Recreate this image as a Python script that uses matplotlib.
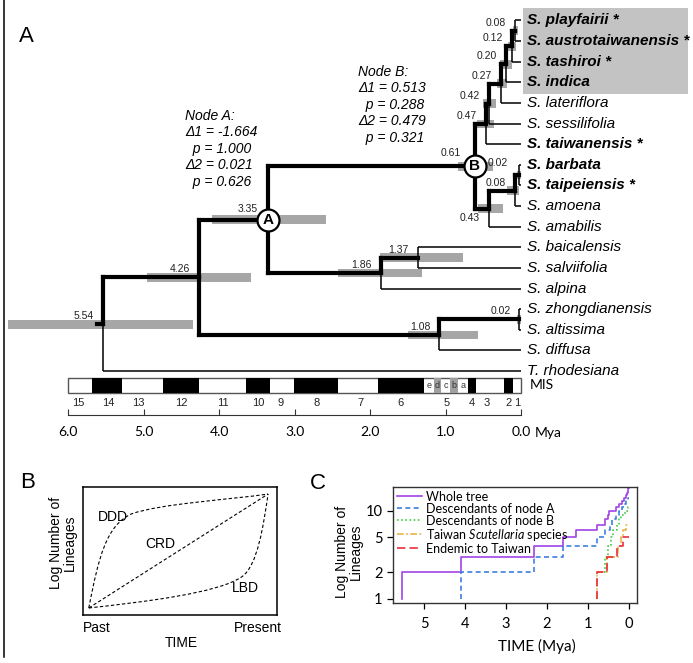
import matplotlib
matplotlib.use('Agg')
import matplotlib.pyplot as plt
from matplotlib.path import Path
from matplotlib.patches import PathPatch
from matplotlib.lines import Line2D
from matplotlib.ticker import NullLocator

plt.rcParams['font.family'] = ['Liberation Sans', 'DejaVu Sans']
plt.rcParams['mathtext.fontset'] = 'custom'
plt.rcParams['mathtext.it'] = 'Lato:italic'
plt.rcParams['mathtext.rm'] = 'Lato'

# ---------------- panel A data: dated tree ----------------
tips = ['S. playfairii', 'S. austrotaiwanensis', 'S. tashiroi', 'S. indica',
        'S. lateriflora', 'S. sessilifolia', 'S. taiwanensis', 'S. barbata',
        'S. taipeiensis', 'S. amoena', 'S. amabilis', 'S. baicalensis',
        'S. salviifolia', 'S. alpina', 'S. zhongdianensis', 'S. altissima',
        'S. diffusa', 'T. rhodesiana']
endemic = ['S. playfairii', 'S. austrotaiwanensis', 'S. tashiroi',
           'S. taiwanensis', 'S. taipeiensis']
taiwan = endemic + ['S. indica', 'S. barbata']
boxed = ['S. playfairii', 'S. austrotaiwanensis', 'S. tashiroi', 'S. indica']

node_ids = ['root', 'n426', 'A', 'n186', 'n137', 'n108', 'n002z', 'B',
            'n047', 'n042', 'n027', 'n020', 'n012', 'n008',
            'n043', 'n008b', 'n002b']
node_ages = [5.54, 4.26, 3.35, 1.86, 1.37, 1.08, 0.02, 0.61,
             0.47, 0.42, 0.27, 0.20, 0.12, 0.08,
             0.43, 0.08, 0.02]
node_kids = [['n426', 'T. rhodesiana'], ['A', 'n108'], ['B', 'n186'],
             ['n137', 'S. alpina'], ['S. baicalensis', 'S. salviifolia'],
             ['n002z', 'S. diffusa'], ['S. zhongdianensis', 'S. altissima'],
             ['n047', 'n043'],
             ['n042', 'S. taiwanensis'], ['n027', 'S. sessilifolia'],
             ['n020', 'S. lateriflora'], ['n012', 'S. indica'],
             ['n008', 'S. tashiroi'], ['S. playfairii', 'S. austrotaiwanensis'],
             ['n008b', 'S. amabilis'], ['n002b', 'S. amoena'],
             ['S. barbata', 'S. taipeiensis']]
# 95% HPD intervals (Mya)
node_hpd = [(6.79, 4.34), (4.95, 3.58), (4.09, 2.58), (2.42, 1.31),
            (1.87, 0.77), (1.50, 0.57), (0.05, 0.0), (0.83, 0.37),
            (0.58, 0.36), (0.50, 0.33), (0.32, 0.19), (0.28, 0.12),
            (0.17, 0.07), (0.11, 0.04), (0.57, 0.24), (0.19, 0.03),
            (0.05, 0.0)]

node_a_text = ['Node A:', '\u03941 = -1.664', '  p = 1.000', '\u03942 = 0.021', '  p = 0.626']
node_b_text = ['Node B:', '\u03941 = 0.513', '  p = 0.288', '\u03942 = 0.479', '  p = 0.321']

# marine isotope stages bar
mis_black = [(5.68, 5.28), (4.74, 4.27), (3.64, 3.33), (3.01, 2.43),
             (1.89, 1.29), (0.70, 0.59), (0.23, 0.11)]
mis_grey = [(1.15, 1.06), (0.94, 0.84)]
mis_sub = ['e', 'd', 'c', 'b', 'a']
mis_sub_pos = [1.22, 1.105, 1.00, 0.89, 0.77]
mis_num = [str(i) for i in range(15, 0, -1)]
mis_num_pos = [5.87, 5.47, 5.07, 4.50, 3.95, 3.48, 3.19, 2.71, 2.13, 1.60,
               0.99, 0.65, 0.45, 0.17, 0.05]
time_ticks = [6, 5, 4, 3, 2, 1, 0]

# ---------------- panel B: schematic curves (bezier control points) ----------------
past_pt = (0.03, 0.055)
present_pt = (0.954, 0.945)
ddd_ctrl = [past_pt, (0.08, 0.45), (0.12, 0.70), (0.25, 0.79),
            (0.40, 0.87), (0.75, 0.90), present_pt]
lbd_ctrl = [past_pt, (0.30, 0.10), (0.70, 0.17), (0.82, 0.30),
            (0.90, 0.387), (0.93, 0.70), present_pt]

# ---------------- panel C: lineages through time ----------------
whole_t = [5.54, 5.54, 4.10, 2.32, 1.60, 1.29, 0.77, 0.58, 0.52, 0.48, 0.32,
           0.24, 0.16, 0.11, 0.08, 0.05, 0.03, 0.02, 0.0]
whole_n = [1, 2, 3, 4, 5, 6, 7, 8, 9, 10, 11, 12, 13, 14, 15, 16, 17, 18, 18]
nodeA_t = [4.10, 4.10, 2.32, 1.60, 0.77, 0.59, 0.46, 0.40, 0.32, 0.24, 0.16,
           0.11, 0.06, 0.03, 0.0]
nodeA_n = [1, 2, 3, 4, 5, 6, 7, 8, 9, 10, 11, 12, 13, 14, 14]
nodeB_t = [0.61, 0.58, 0.50, 0.43, 0.38, 0.30, 0.24, 0.18, 0.10, 0.03, 0.0]
nodeB_n = [2, 3, 4, 5, 6, 7, 8, 9, 10, 11, 11]
tw_t = [0.77, 0.77, 0.53, 0.26, 0.20, 0.14, 0.06, 0.0]
tw_n = [1, 2, 3, 4, 5, 6, 7, 7]
end_t = [0.77, 0.77, 0.53, 0.30, 0.15, 0.0]
end_n = [1, 2, 3, 4, 5, 5]

# ---------------- layout ----------------
W, H = 693, 663
fig = plt.figure(figsize=(W / 100, H / 100), dpi=100)

def fx(px):
    return px / W

def fy(py):
    return 1 - py / H

# tree coordinates: x in Mya, y in tip rows
T0_PX, MYA_PX = 521.0, 75.5
ROW0_PX, ROW_PX = 20.5, 20.62

def row(py):
    return (py - ROW0_PX) / ROW_PX

ax = fig.add_axes([0, 0, 1, 1])
ax.set_xlim(T0_PX / MYA_PX, (T0_PX - W) / MYA_PX)
ax.set_ylim(row(H), row(0))
ax.axis('off')

# node y positions
ypos = {t: i for i, t in enumerate(tips)}
age = dict(zip(node_ids, node_ages))
kids = dict(zip(node_ids, node_kids))

def get_y(name):
    if name not in ypos:
        ypos[name] = sum(get_y(k) for k in kids[name]) / len(kids[name])
    return ypos[name]

for n in node_ids:
    get_y(n)

def get_age(name):
    return age.get(name, 0.0)

# grey box behind Taiwan clade
y_top = ypos[boxed[0]] - 0.6
y_bot = ypos[boxed[-1]] + 0.55
ax.barh((y_top + y_bot) / 2, (688 - 523) / MYA_PX,
        left=(T0_PX - 688) / MYA_PX, height=y_bot - y_top,
        color='#c3c3c3', zorder=0)

# HPD bars
for n, (lo, hi) in zip(node_ids, node_hpd):
    ax.barh(ypos[n], lo - hi, left=hi, height=0.42, color='#a6a6a6', zorder=1)

# branches
THICK, THIN = 3.0, 1.1
for n in node_ids:
    for k in kids[n]:
        lw = THICK if k in age else THIN
        cap = 'projecting' if k in age else 'butt'
        ax.plot([age[n], age[n]], [ypos[n], ypos[k]], color='black', lw=lw,
                solid_capstyle=cap, zorder=3)
        ax.plot([age[n], get_age(k)], [ypos[k], ypos[k]], color='black', lw=lw,
                solid_capstyle=cap, zorder=3)
# small root stem mark
ax.plot([age['root'] + 0.08, age['root']], [ypos['root'], ypos['root']],
        color='black', lw=THICK, zorder=3)

# node age labels
label_off = {'A': (-10, 11), 'B': (-14, 13), 'n002b': (-12, 12), 'n043': (-9, -9)}
for n in node_ids:
    off = label_off.get(n, (-9, 8))
    ax.annotate(f'{age[n]:.2f}', (age[n], ypos[n]), xytext=off,
                textcoords='offset pixels', ha='right', va='center',
                fontsize=7.5, color='#222222', zorder=6)

# circled nodes
for n in ['A', 'B']:
    ax.scatter([age[n]], [ypos[n]], s=250, facecolor='white',
               edgecolor='black', linewidths=1.6, zorder=7)
    ax.text(age[n], ypos[n], n, ha='center', va='center', fontsize=11,
            fontweight='bold', zorder=8)

# tip labels
for t in tips:
    lab = t + (' *' if t in endemic else '')
    ax.annotate(lab, (0, ypos[t]), xytext=(6, 0), textcoords='offset pixels',
                ha='left', va='center', fontsize=11, style='italic',
                fontweight='bold' if t in taiwan else 'normal', zorder=6)

# node test statistics
ax.text((T0_PX - 185) / MYA_PX, row(109), '\n'.join(node_a_text), ha='left',
        va='top', fontsize=10, style='italic', linespacing=1.22)
ax.text((T0_PX - 358) / MYA_PX, row(65), '\n'.join(node_b_text), ha='left',
        va='top', fontsize=10, style='italic', linespacing=1.22)

# MIS bar
bar_top, bar_bot = row(378), row(393)
bar_h = bar_bot - bar_top
bar_c = (bar_top + bar_bot) / 2
ax.barh(bar_c, 6.0, left=0, height=bar_h, color='white', edgecolor='#555555',
        lw=1.0, zorder=2)
for a, b in mis_black:
    ax.barh(bar_c, a - b, left=b, height=bar_h, color='black', zorder=3)
for a, b in mis_grey:
    ax.barh(bar_c, a - b, left=b, height=bar_h, color='#a0a0a0', zorder=3)
for s, p in zip(mis_sub, mis_sub_pos):
    ax.text(p, bar_c, s, ha='center', va='center', fontsize=6.5,
            color='#333333', zorder=4)
for s, p in zip(mis_num, mis_num_pos):
    ax.text(p, row(403), s, ha='center', va='center', fontsize=8,
            family=['Liberation Sans Narrow', 'Liberation Sans'], color='#222222')
ax.text((T0_PX - 530) / MYA_PX, bar_c, 'MIS', ha='left', va='center',
        fontsize=10, family='Lato')

# time axis
axt = fig.add_axes([0, fy(415), 1, 0.001])
axt.set_xlim(ax.get_xlim())
axt.set_facecolor('none')
for s in ['top', 'left', 'right']:
    axt.spines[s].set_visible(False)
axt.spines['bottom'].set_bounds(0, 6)
axt.spines['bottom'].set_color('#333333')
axt.set_yticks([])
axt.set_xticks(time_ticks)
axt.set_xticklabels([f'{v:.1f}' for v in time_ticks])
axt.tick_params(axis='x', direction='in', length=4, pad=8, labelsize=10,
                labelfontfamily='Lato', color='#333333')
fig.text(fx(535), fy(433), 'Mya', ha='left', va='center', fontsize=10,
         family='Lato')

# ---------------- panel B ----------------
axb = fig.add_axes([fx(83), fy(615), fx(277) - fx(83), fy(487) - fy(615)])
axb.set_xlim(0, 1)
axb.set_ylim(0, 1)
axb.set_xticks([])
axb.set_yticks([])
for s in axb.spines.values():
    s.set_linewidth(1.1)
codes = [Path.MOVETO] + [Path.CURVE4] * 6
for pts in [ddd_ctrl, lbd_ctrl]:
    axb.add_patch(PathPatch(Path(pts, codes), facecolor='none', edgecolor='black',
                            lw=0.8, ls=(0, (3, 2))))
axb.plot([past_pt[0], present_pt[0]], [past_pt[1], present_pt[1]], color='black',
         lw=0.8, ls=(0, (3, 2)))
axb.text(0.155, 0.766, 'DDD', ha='center', va='center', fontsize=10)
axb.text(0.397, 0.555, 'CRD', ha='center', va='center', fontsize=10)
axb.text(0.835, 0.211, 'LBD', ha='center', va='center', fontsize=10)
fig.text(fx(83), fy(628), 'Past', ha='left', va='center', fontsize=10)
fig.text(fx(282), fy(628), 'Present', ha='right', va='center', fontsize=10)
fig.text(fx(181), fy(643), 'TIME', ha='center', va='center', fontsize=10)
fig.text(fx(63), fy(543), 'Log Number of\nLineages', ha='center', va='center',
         rotation=90, fontsize=10, linespacing=1.0)

# ---------------- panel C ----------------
axc = fig.add_axes([fx(393), fy(603), fx(637) - fx(393), fy(487) - fy(603)])
axc.set_yscale('log')
axc.set_xlim(5.76, -0.2)
axc.set_ylim(0.90, 18.7)
axc.step(whole_t, whole_n, where='post', color='#a044e6', lw=1.2,
         label='Whole tree')
axc.step(nodeA_t, nodeA_n, where='post', color='#3f7fe0', lw=1.2,
         ls=(0, (3, 2)), label='Descendants of node A')
axc.step(nodeB_t, nodeB_n, where='post', color='#3fcc3f', lw=1.2,
         ls=(0, (1, 1.5)), label='Descendants of node B')
axc.step(tw_t, tw_n, where='post', color='#e6b44a', lw=1.2,
         ls=(0, (4, 1.5, 1, 1.5)), label=r'Taiwan $\it{Scutellaria}$ species')
axc.step(end_t, end_n, where='post', color='#e8303a', lw=1.2,
         ls=(0, (5, 2.5)), label='Endemic to Taiwan')
axc.set_yticks([1, 2, 5, 10])
axc.set_yticklabels(['1', '2', '5', '10'])
axc.yaxis.set_minor_locator(NullLocator())
axc.set_xticks([5, 4, 3, 2, 1, 0])
axc.tick_params(labelsize=10.5, labelfontfamily='Lato', length=4, width=0.9)
axc.tick_params(axis='x', pad=6)
for s in axc.spines.values():
    s.set_linewidth(1.0)
    s.set_color('#333333')
axc.legend(loc='upper left', frameon=False, prop={'family': 'Lato', 'size': 9},
           handlelength=2.0, handletextpad=0.3, labelspacing=0.0,
           borderpad=0.1, borderaxespad=0.2)
fig.text(fx(537), fy(646), 'TIME (Mya)', ha='center', va='center', fontsize=11,
         family='Lato')
fig.text(fx(349), fy(552), 'Log Number of\nLineages', ha='center', va='center',
         rotation=90, fontsize=10, linespacing=1.0)

# panel letters and left border
fig.text(fx(26), fy(36), 'A', ha='center', va='center', fontsize=16)
fig.text(fx(27.5), fy(482.5), 'B', ha='center', va='center', fontsize=16)
fig.text(fx(318), fy(483.5), 'C', ha='center', va='center', fontsize=16)
fig.add_artist(Line2D([fx(4), fx(4)], [fy(0), fy(657)], color='black', lw=1.1))

fig.savefig('out.png', dpi=100)
